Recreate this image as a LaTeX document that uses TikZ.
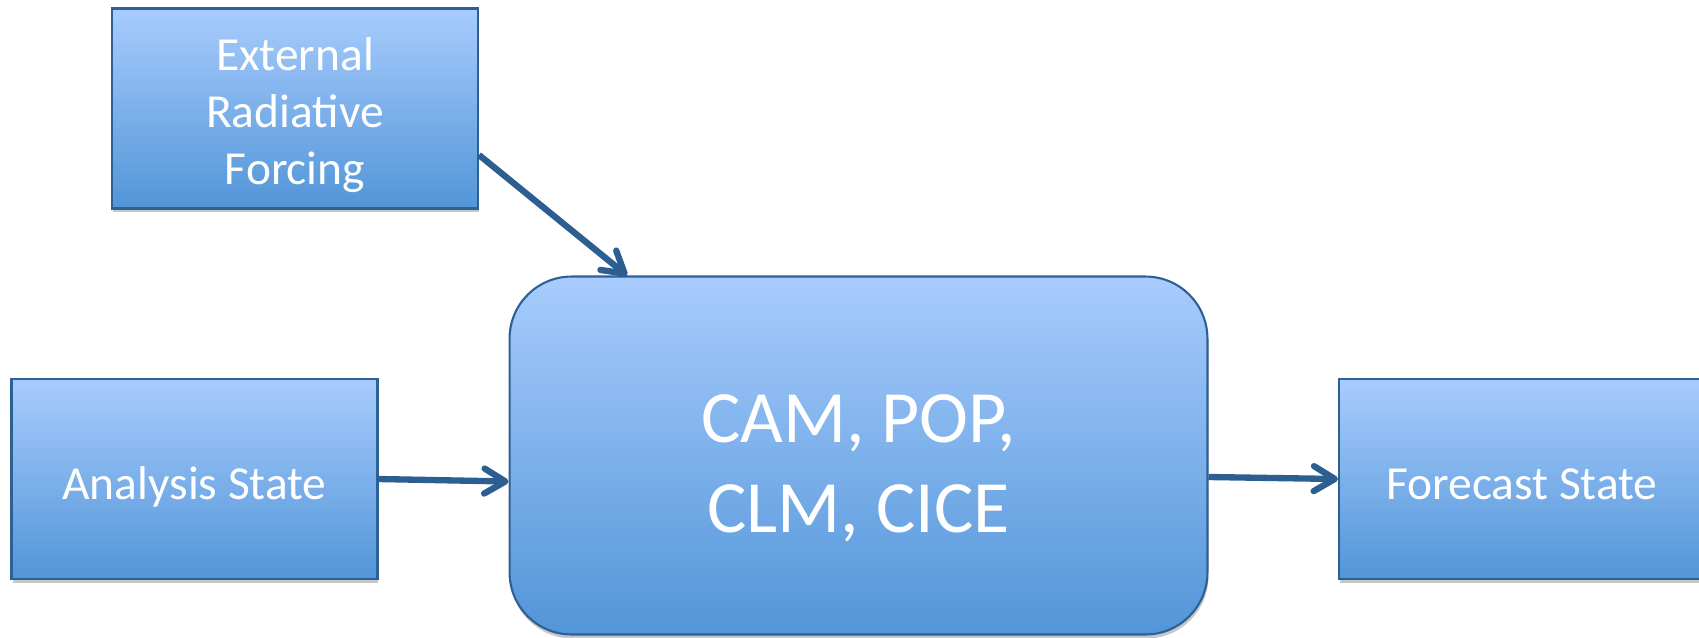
\documentclass[tikz,border=0pt]{standalone}
\usepackage{fontspec}
\setmainfont{Carlito}
\usepackage{tikz}
\usetikzlibrary{arrows.meta}
\usetikzlibrary{shadows}

\definecolor{boxtop}{RGB}{168,204,253}
\definecolor{boxbottom}{RGB}{82,149,216}
\definecolor{boxedge}{RGB}{45,96,148}
\definecolor{arrowblue}{RGB}{44,94,146}

\tikzset{
	statebox/.style={draw=boxedge, line width=1.2pt, top color=boxtop, bottom color=boxbottom,
		minimum width=7.32cm, minimum height=4cm, inner sep=0pt, text=white, align=center,
		font=\fontsize{27}{32.4}\selectfont,
		drop shadow={shadow xshift=0.02cm, shadow yshift=-0.08cm, opacity=0.22, fill=black}},
	modelbox/.style={statebox, rounded corners=1.24cm, minimum width=13.96cm, minimum height=7.16cm,
		font=\fontsize{42}{51}\selectfont},
	flow/.style={draw=arrowblue, line width=3.6pt, -{Straight Barb[round,length=0.42cm,width=0.5cm]}}
}

\begin{document}
\begin{tikzpicture}[x=0.02cm,y=-0.02cm]
\clip (0,0) rectangle (1699,637);

\node[statebox, text height=86pt, text depth=0pt] (forcing) at (295,108.5) {External\\Radiative\\Forcing};

\node[statebox, text height=22.8pt, text depth=0pt] (analysis) at (194.5,479) {Analysis State};

\node[modelbox, text height=87.5pt, text depth=0pt] (model) at (858.5,455.5) {CAM, POP,\\CLM, CICE};

\node[statebox, text height=22.8pt, text depth=0pt] (forecast) at (1522,479) {Forecast State};

\draw[flow] ([yshift=-0.93cm]forcing.east) -- ([xshift=-4.63cm]model.north);

\draw[flow] (analysis.east) -- ([yshift=-0.52cm]model.west);

\draw[flow] ([yshift=-0.43cm]model.east) -- (forecast.west);

\end{tikzpicture}
\end{document}
